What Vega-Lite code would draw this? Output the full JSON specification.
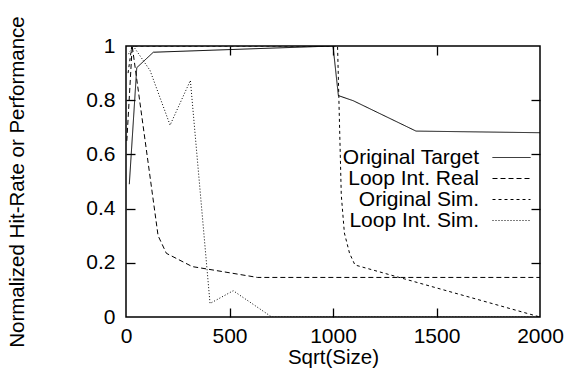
{
  "$schema": "https://vega.github.io/schema/vega-lite/v6.json",
  "width": 414,
  "height": 271,
  "autosize": {"type": "none"},
  "padding": {"left": 126, "top": 46, "right": 26, "bottom": 54},
  "background": "white",
  "config": {
    "font": "Liberation Sans",
    "view": {"stroke": "black", "strokeWidth": 1.5},
    "axis": {
      "grid": false,
      "domain": false,
      "tickColor": "black",
      "tickSize": 9,
      "tickWidth": 1.3,
      "labelFont": "Liberation Sans",
      "labelFontSize": 21,
      "labelColor": "black",
      "titleFont": "Liberation Sans",
      "titleFontSize": 20.5,
      "titleFontWeight": "normal",
      "titleColor": "black"
    }
  },
  "datasets": {
    "curves": [
      {"series": "Original Target", "x": 16, "y": 0.49},
      {"series": "Original Target", "x": 52, "y": 0.92},
      {"series": "Original Target", "x": 132, "y": 0.977},
      {"series": "Original Target", "x": 1000, "y": 1.0},
      {"series": "Original Target", "x": 1026, "y": 0.817},
      {"series": "Original Target", "x": 1098, "y": 0.798},
      {"series": "Original Target", "x": 1401, "y": 0.686},
      {"series": "Original Target", "x": 2000, "y": 0.68},
      {"series": "Loop Int. Real", "x": 4, "y": 0.65},
      {"series": "Loop Int. Real", "x": 30, "y": 1.0},
      {"series": "Loop Int. Real", "x": 155, "y": 0.3},
      {"series": "Loop Int. Real", "x": 195, "y": 0.235},
      {"series": "Loop Int. Real", "x": 320, "y": 0.186},
      {"series": "Loop Int. Real", "x": 400, "y": 0.176},
      {"series": "Loop Int. Real", "x": 635, "y": 0.146},
      {"series": "Loop Int. Real", "x": 2000, "y": 0.146},
      {"series": "Original Sim.", "x": 10, "y": 0.9},
      {"series": "Original Sim.", "x": 28, "y": 1.0},
      {"series": "Original Sim.", "x": 1022, "y": 1.0},
      {"series": "Original Sim.", "x": 1040, "y": 0.45},
      {"series": "Original Sim.", "x": 1055, "y": 0.31},
      {"series": "Original Sim.", "x": 1080, "y": 0.235},
      {"series": "Original Sim.", "x": 1106, "y": 0.192},
      {"series": "Original Sim.", "x": 2000, "y": 0.0},
      {"series": "Loop Int. Sim.", "x": 12, "y": 0.97},
      {"series": "Loop Int. Sim.", "x": 35, "y": 1.0},
      {"series": "Loop Int. Sim.", "x": 116, "y": 0.91},
      {"series": "Loop Int. Sim.", "x": 213, "y": 0.708},
      {"series": "Loop Int. Sim.", "x": 311, "y": 0.873},
      {"series": "Loop Int. Sim.", "x": 406, "y": 0.05},
      {"series": "Loop Int. Sim.", "x": 518, "y": 0.097},
      {"series": "Loop Int. Sim.", "x": 704, "y": 0.0},
      {"series": "Loop Int. Sim.", "x": 2000, "y": 0.0}
    ]
  },
  "data": {"name": "curves"},
  "layer": [
    {
      "mark": {"type": "line", "strokeWidth": 1, "color": "black", "clip": true},
      "encoding": {
        "x": {
          "field": "x", "type": "quantitative",
          "scale": {"domain": [0, 2000], "nice": false, "zero": false},
          "axis": {"orient": "bottom", "values": [0, 500, 1000, 1500, 2000], "format": "d", "ticks": false, "labelPadding": 8, "title": "Sqrt(Size)", "titlePadding": 1, "labelFlush": false}
        },
        "y": {
          "field": "y", "type": "quantitative",
          "scale": {"domain": [0, 1], "nice": false},
          "axis": {"orient": "left", "values": [0, 0.2, 0.4, 0.6, 0.8, 1], "format": "~g", "ticks": false, "labelPadding": 11, "title": "Normalized Hit-Rate or Performance", "titlePadding": 58}
        },
        "strokeDash": {
          "field": "series", "type": "nominal",
          "scale": {
            "domain": ["Original Target", "Loop Int. Real", "Original Sim.", "Loop Int. Sim."],
            "range": [[1, 0], [5, 3], [3, 3], [1, 2]]
          },
          "legend": {
            "orient": "none",
            "legendX": 375,
            "legendY": 101,
            "title": null,
            "padding": 0,
            "symbolType": "M-2,0H2",
            "symbolSize": 361,
            "symbolStrokeColor": "black",
            "symbolStrokeWidth": 1,
            "labelAlign": "right",
            "labelOffset": -43,
            "labelFont": "Liberation Sans",
            "labelFontSize": 21,
            "labelColor": "black",
            "labelLimit": 300,
            "rowPadding": -2.5
          }
        }
      }
    },
    {
      "mark": {"type": "line", "strokeOpacity": 0},
      "encoding": {
        "x": {
          "field": "x", "type": "quantitative",
          "axis": {"orient": "top", "offset": -271, "values": [500, 1000, 1500], "ticks": true, "tickSize": 9, "tickColor": "black", "tickWidth": 1.3, "labels": false, "title": null}
        },
        "y": {
          "field": "y", "type": "quantitative",
          "axis": {"orient": "right", "offset": -414, "values": [0.2, 0.4, 0.6, 0.8], "ticks": true, "tickSize": 9, "tickColor": "black", "tickWidth": 1.3, "labels": false, "title": null}
        },
        "detail": {"field": "series", "type": "nominal"}
      }
    },
    {
      "mark": {"type": "line", "strokeOpacity": 0},
      "encoding": {
        "x": {
          "field": "x", "type": "quantitative",
          "axis": {"orient": "bottom", "offset": -271, "values": [500, 1000, 1500], "ticks": true, "tickSize": 9, "tickColor": "black", "tickWidth": 1.3, "labels": false, "title": null}
        },
        "y": {
          "field": "y", "type": "quantitative",
          "axis": {"orient": "left", "offset": -414, "values": [0.2, 0.4, 0.6, 0.8], "ticks": true, "tickSize": 9, "tickColor": "black", "tickWidth": 1.3, "labels": false, "title": null}
        },
        "detail": {"field": "series", "type": "nominal"}
      }
    }
  ],
  "resolve": {"axis": {"x": "independent", "y": "independent"}}
}
